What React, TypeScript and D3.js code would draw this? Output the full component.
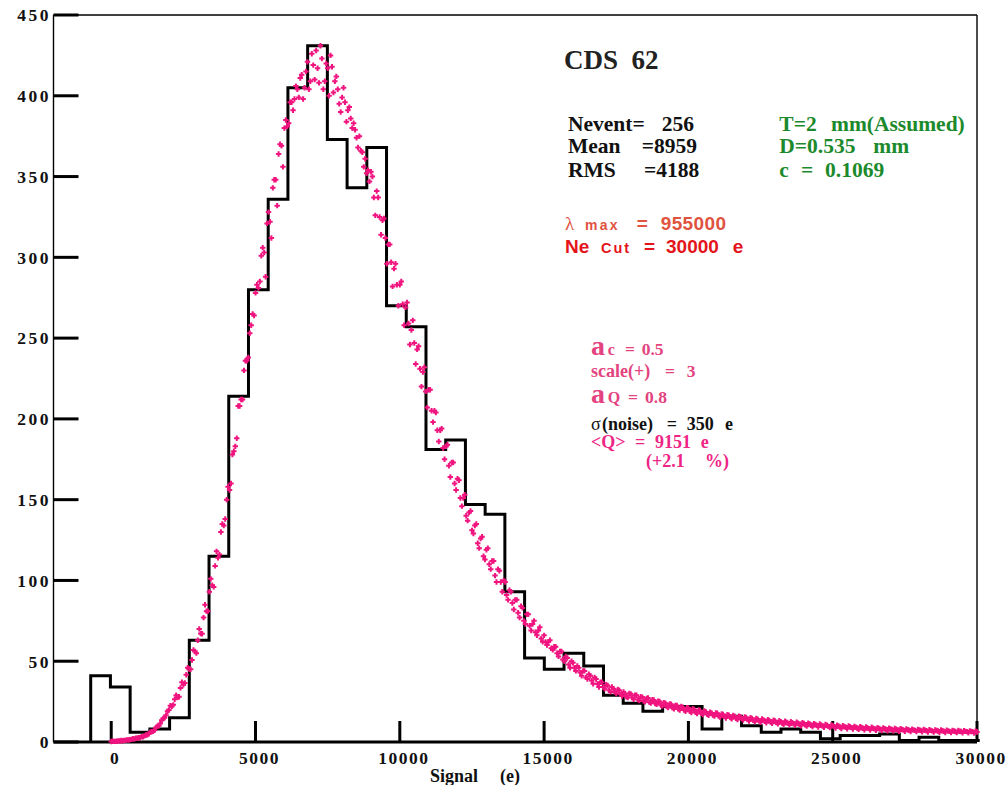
import React from "react";
import * as d3 from "d3";

// Histogram (black step outline): bins start at -711 e, width 683.4 e
const binStart = -711;
const binWidth = 683.4;
const histCounts = [
  41, 34, 6, 8, 15, 63, 115, 214, 280, 336, 405, 431, 373, 343, 368, 270, 257, 181, 187, 147,
  141, 93, 52, 45, 55, 47, 29, 24, 19, 22, 22, 8, 16, 10, 6, 8, 6, 2, 4, 4, 5, 1, 3, 1, 1,
];

// Simulated points (pink "+"), set A on signal grid 0, 100, ..., 30000
const simStep = 100;
const simCountsA = [
  0.3, 0.4, 0.5, 0.6, 0.8, 1.0, 1.2, 1.6, 1.9, 2.3,
  2.7, 3.2, 4.3, 4.9, 6.5, 7.2, 9.8, 11.4, 14.5, 16.6,
  19.8, 22.1, 26.5, 27.6, 33.5, 35.4, 41.6, 45.2, 50.8, 56.1,
  63.0, 67.2, 77.0, 81.0, 93.0, 97.0, 109, 114, 130, 134,
  150, 156, 178, 183, 208, 212, 230, 236, 253, 265,
  278, 281, 301, 303, 321, 322, 343, 348, 364, 369,
  380, 381, 396, 391, 406, 399, 413, 405, 421, 409,
  419, 428, 408, 423, 409, 417, 425, 402, 412, 395,
  399, 396, 391, 386, 383, 374, 375, 365, 361, 354,
  353, 337, 341, 325, 323, 312, 308, 297, 293, 283,
  283, 271, 269, 259, 255, 247, 243, 231, 229, 217,
  218, 205, 205, 193, 193, 182, 183, 171, 173, 160,
  163, 151, 151, 140, 142, 131, 134, 123, 126, 115,
  119, 110, 112, 103, 107, 99, 100, 91, 94, 86,
  88, 80, 84, 75, 79, 72, 73, 68, 69, 64,
  66, 60, 63, 57, 59, 53, 56, 50, 52, 46,
  49, 44, 46, 41, 44, 39, 41, 36, 39, 34,
  37, 33, 35, 31, 33, 30, 32, 28.5, 30, 27.5,
  29.8, 26.4, 28.9, 25.6, 27.8, 24.9, 27.2, 24.1, 26.0, 23.4,
  25.1, 22.2, 24.0, 21.3, 23.4, 20.5, 22.6, 19.8, 21.5, 19.0,
  21.0, 18.2, 20.1, 17.6, 19.5, 17.0, 18.7, 16.5, 18.0, 16.0,
  17.8, 15.3, 17.0, 14.9, 16.6, 14.4, 16.0, 13.9, 15.6, 13.6,
  15.2, 13.0, 14.6, 12.6, 14.1, 12.2, 13.7, 11.9, 13.3, 11.6,
  13.0, 11.2, 12.6, 10.9, 12.3, 10.6, 12.0, 10.3, 11.7, 10.1,
  11.5, 9.8, 11.2, 9.5, 10.9, 9.3, 10.6, 9.1, 10.4, 8.9,
  10.2, 8.6, 9.9, 8.4, 9.7, 8.2, 9.4, 8.0, 9.2, 7.8,
  9.0, 7.6, 8.8, 7.4, 8.6, 7.3, 8.4, 7.1, 8.2, 7.0,
  8.1, 6.8, 7.9, 6.7, 7.8, 6.6, 7.6, 6.5, 7.5, 6.4,
  7.4, 6.3, 7.3, 6.2, 7.2, 6.1, 7.1, 6.0, 7.0, 5.9,
  6.9, 5.8, 6.8, 5.8, 6.7, 5.7, 6.6, 5.7, 6.5, 5.6,
  6.2,
];
// set B on signal grid 50, 150, ..., 29950
const simOffsetB = 50;
const simCountsB = [
  0.5, 0.4, 0.7, 0.9, 1.0, 1.3, 1.5, 2.0, 2.4, 2.6,
  3.3, 3.8, 4.5, 6.0, 6.6, 9.0, 10.0, 13.5, 15.0, 19.0,
  22.5, 23.0, 29.0, 28.0, 37.0, 36.5, 46.0, 45.0, 57.0, 55.0,
  70.0, 67.0, 85.0, 81.0, 101, 96, 118, 116, 135, 138,
  158, 160, 180, 188, 208, 212, 236, 238, 258, 264,
  283, 285, 306, 288, 328, 312, 348, 332, 370, 356,
  385, 383, 396, 398, 404, 411, 398, 415, 404, 426,
  410, 417, 431, 404, 420, 400, 418, 409, 404, 390,
  405, 384, 393, 380, 379, 368, 366, 356, 352, 347,
  350, 326, 337, 314, 324, 296, 308, 282, 296, 270,
  285, 258, 272, 246, 261, 234, 245, 220, 232, 207,
  218, 198, 204, 186, 194, 175, 184, 164, 173, 156,
  162, 146, 153, 137, 143, 129, 135, 120, 127, 113,
  120, 107, 112, 99, 106, 93, 99, 88, 93, 82,
  88, 77, 83, 73, 79, 69, 75, 66, 71, 62,
  62, 62, 58, 59, 55, 56, 51, 53, 48, 50,
  46, 47, 43, 44, 40, 42, 38, 40, 36, 37,
  34, 35.5, 32, 34, 31, 32.5, 29.5, 31, 28, 30,
  27.5, 29, 26.3, 28, 25.4, 27, 24.6, 26.2, 23.8, 25.2,
  22.8, 24.4, 22, 23.6, 21.2, 22.7, 20.4, 22, 19.8, 21.2,
  19, 20.6, 18.4, 19.8, 17.7, 19.2, 17.2, 18.5, 16.7, 18,
  16.1, 17.4, 15.7, 16.9, 15.2, 16.4, 14.7, 15.9, 14.3, 15.5,
  13.9, 15, 13.5, 14.5, 13.1, 14.2, 12.8, 13.8, 12.4, 13.5,
  12.1, 13.2, 11.8, 12.9, 11.5, 12.6, 11.2, 12.3, 11, 12,
  10.7, 11.7, 10.4, 11.4, 10.2, 11.1, 9.9, 10.9, 9.7, 10.6,
  9.5, 10.4, 9.3, 10.1, 9.1, 9.9, 8.9, 9.7, 8.7, 9.5,
  8.5, 9.3, 8.3, 9.1, 8.1, 8.9, 8, 8.7, 7.8, 8.6,
  7.7, 8.4, 7.5, 8.3, 7.4, 8.1, 7.3, 8, 7.2, 7.8,
  7.1, 7.7, 7, 7.6, 6.9, 7.5, 6.8, 7.4, 6.7, 7.3,
  6.6, 7.2, 6.5, 7.1, 6.5, 7, 6.4, 6.9, 6.4, 6.8,
];

const xTicks = [0, 5000, 10000, 15000, 20000, 25000, 30000];
const yTicks = [0, 50, 100, 150, 200, 250, 300, 350, 400, 450];

const SERIF = "'Liberation Serif', 'Times New Roman', serif";
const SANS = "'Liberation Sans', Arial, sans-serif";
const PINK_MARK = "#f0147f";
const PINK_TXT = "#e3437e";
const PINK_Q = "#ee2585";
const GREEN = "#1c8a2c";

export default function App() {
  const left = 53.5, right = 977, top = 15, bottom = 742;
  const x = d3.scaleLinear().domain([-2000, 30000]).range([left, right]);
  const y = d3.scaleLinear().domain([0, 450]).range([bottom, top]);

  const pts: [number, number][] = [];
  histCounts.forEach((c, i) => {
    const e0 = binStart + i * binWidth;
    const e1 = e0 + binWidth;
    if (i === 0) pts.push([e0, 0]);
    pts.push([e0, c]);
    pts.push([e1, c]);
    if (i === histCounts.length - 1) pts.push([e1, 0]);
  });
  const histPath = d3
    .line<[number, number]>()
    .x((d) => x(d[0]))
    .y((d) => y(d[1]))(pts) as string;

  const sim: [number, number][] = [
    ...simCountsA.map((v, i) => [i * simStep, v] as [number, number]),
    ...simCountsB.map((v, i) => [simOffsetB + i * simStep, v] as [number, number]),
  ];
  const arm = 2.7;

  const t = (props: any, s: string) => (
    <text {...props} style={{ whiteSpace: "pre" }}>
      {s}
    </text>
  );

  return (
    <svg
      width={1008}
      height={785}
      style={{ position: "absolute", left: 0, top: 0, background: "#fff" }}
    >
      <rect x={0} y={0} width={1008} height={785} fill="#fff" />
      {/* frame */}
      <line x1={left} y1={top} x2={right} y2={top} stroke="#000" strokeWidth={1.4} />
      <line x1={left} y1={top} x2={left} y2={bottom} stroke="#000" strokeWidth={1.4} />
      <line x1={right} y1={top} x2={right} y2={bottom} stroke="#000" strokeWidth={1.4} />
      <line x1={left} y1={bottom} x2={right} y2={bottom} stroke="#000" strokeWidth={3} />

      {/* y ticks */}
      {yTicks.map((v) => (
        <g key={"y" + v}>
          <line x1={left} x2={left + 25} y1={y(v)} y2={y(v)} stroke="#000" strokeWidth={3} />
          <text
            x={51}
            y={y(v)}
            dy="0.36em"
            textAnchor="end"
            fontFamily={SERIF}
            fontWeight="bold"
            fontSize={17.5}
            letterSpacing={2.5}
            fill="#111"
          >
            {v}
          </text>
        </g>
      ))}
      {/* x ticks */}
      {xTicks.map((v) => (
        <g key={"x" + v}>
          <line x1={x(v)} x2={x(v)} y1={bottom} y2={bottom - 21} stroke="#000" strokeWidth={3} />
          <text
            x={x(v) + 4}
            y={764}
            textAnchor="middle"
            fontFamily={SERIF}
            fontWeight="bold"
            fontSize={17.5}
            letterSpacing={1.5}
            fill="#111"
          >
            {v}
          </text>
        </g>
      ))}
      {t({ x: 430, y: 782, fontFamily: SERIF, fontWeight: "bold", fontSize: 18, fill: "#111" }, "Signal")}
      {t({ x: 500, y: 782, fontFamily: SERIF, fontWeight: "bold", fontSize: 18, fill: "#111" }, "(e)")}

      {/* histogram */}
      <path d={histPath} fill="none" stroke="#000" strokeWidth={3} strokeLinejoin="miter" />

      {/* simulation markers */}
      <g stroke={PINK_MARK} strokeWidth={2}>
        {sim.map((d, i) => {
          const cx = x(d[0]);
          const cy = y(d[1]);
          return (
            <path
              key={i}
              d={`M${cx - arm},${cy}H${cx + arm}M${cx},${cy - arm}V${cy + arm}`}
            />
          );
        })}
      </g>

      {/* annotations */}
      {t({ x: 564, y: 69, fontFamily: SERIF, fontWeight: "bold", fontSize: 27, fill: "#222" }, "CDS  62")}

      <g fontFamily={SERIF} fontWeight="bold" fontSize={21.5} fill="#111">
        {t({ x: 568, y: 131 }, "Nevent=")}
        {t({ x: 661.7, y: 131 }, "256")}
        {t({ x: 568, y: 153.3 }, "Mean")}
        {t({ x: 641.7, y: 153.3 }, "=8959")}
        {t({ x: 568, y: 176.7 }, "RMS")}
        {t({ x: 644, y: 176.7 }, "=4188")}
      </g>
      <g fontFamily={SERIF} fontWeight="bold" fontSize={21.5} fill={GREEN}>
        {t({ x: 779.3, y: 131 }, "T=2")}
        {t({ x: 831, y: 131 }, "mm(Assumed)")}
        {t({ x: 779.3, y: 153.3 }, "D=0.535")}
        {t({ x: 873.3, y: 153.3 }, "mm")}
        {t({ x: 779.3, y: 176.7 }, "c")}
        {t({ x: 801, y: 176.7 }, "=")}
        {t({ x: 825, y: 176.7 }, "0.1069")}
      </g>

      <g fill="#e0533f" fontFamily={SANS} fontWeight="bold">
        {t({ x: 565, y: 230, fontFamily: SERIF, fontWeight: "normal", fontSize: 19 }, "λ")}
        {t({ x: 585, y: 230, fontSize: 14, letterSpacing: 2.2 }, "max")}
        {t({ x: 636.7, y: 230, fontSize: 19 }, "=")}
        {t({ x: 660.7, y: 230, fontSize: 19, letterSpacing: 0.4 }, "955000")}
      </g>
      <g fill="#e4141b" fontFamily={SANS} fontWeight="bold">
        {t({ x: 565, y: 253.3, fontSize: 19 }, "Ne")}
        {t({ x: 601, y: 253.3, fontSize: 14.5, letterSpacing: 2 }, "Cut")}
        {t({ x: 644, y: 253.3, fontSize: 19 }, "=")}
        {t({ x: 666, y: 253.3, fontSize: 19 }, "30000")}
        {t({ x: 732.7, y: 253.3, fontSize: 19 }, "e")}
      </g>

      <g fontFamily={SERIF} fontWeight="bold" fontSize={17.5} fill={PINK_TXT}>
        {t({ x: 591, y: 355, fontSize: 28 }, "a")}
        {t({ x: 607.7, y: 355, fontSize: 16 }, "c")}
        {t({ x: 625, y: 355 }, "=")}
        {t({ x: 641.7, y: 355 }, "0.5")}
        {t({ x: 591, y: 376.7, fontSize: 18 }, "scale(+)")}
        {t({ x: 665, y: 376.7 }, "=")}
        {t({ x: 686.7, y: 376.7 }, "3")}
        {t({ x: 591, y: 403.3, fontSize: 28 }, "a")}
        {t({ x: 607.7, y: 403.3, fontSize: 16 }, "Q")}
        {t({ x: 628, y: 403.3 }, "=")}
        {t({ x: 645, y: 403.3 }, "0.8")}
      </g>
      <g fontFamily={SERIF} fontWeight="bold" fontSize={18} fill="#111">
        {t({ x: 591, y: 430, fontWeight: "normal" }, "σ")}
        {t({ x: 602, y: 430 }, "(noise)")}
        {t({ x: 666.7, y: 430 }, "=")}
        {t({ x: 686.7, y: 430 }, "350")}
        {t({ x: 725, y: 430 }, "e")}
      </g>
      <g fontFamily={SERIF} fontWeight="bold" fontSize={18} fill={PINK_Q}>
        {t({ x: 591, y: 448.3 }, "<Q>")}
        {t({ x: 635, y: 448.3 }, "=")}
        {t({ x: 655, y: 448.3 }, "9151")}
        {t({ x: 700.7, y: 448.3 }, "e")}
        {t({ x: 646, y: 467.3 }, "(+2.1")}
        {t({ x: 705, y: 467.3 }, "%)")}
      </g>
    </svg>
  );
}
